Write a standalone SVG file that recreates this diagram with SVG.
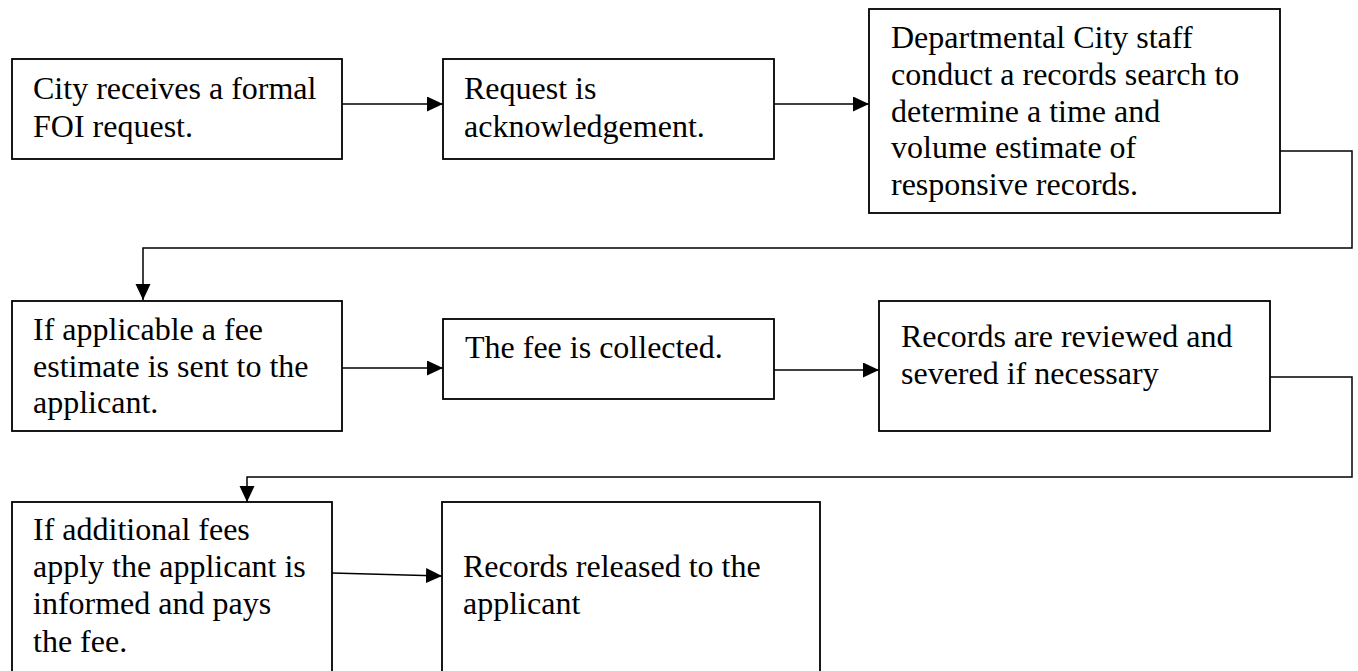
<svg xmlns="http://www.w3.org/2000/svg" width="1358" height="671" viewBox="0 0 1358 671">
<style>
.box{fill:#fff;stroke:#000;stroke-width:1.8}
.lbl{font-family:"Liberation Serif","Times New Roman",serif;font-size:32px;fill:#000}
.conn{fill:none;stroke:#000;stroke-width:1.5}
</style>
<defs>
<marker id="arr" markerUnits="userSpaceOnUse" markerWidth="17" markerHeight="16" refX="16" refY="7.5" orient="auto">
<path d="M0,0 L16,7.5 L0,15 z" fill="#000"/>
</marker>
</defs>
<rect width="1358" height="671" fill="#fff"/>
<g id="connectors">
<path class="conn" d="M342,104 H443" marker-end="url(#arr)"/>
<path class="conn" d="M774,104 H869" marker-end="url(#arr)"/>
<path class="conn" d="M1280,151 H1352 V248 H143 V300" marker-end="url(#arr)"/>
<path class="conn" d="M342,368 H443" marker-end="url(#arr)"/>
<path class="conn" d="M774,370 H879" marker-end="url(#arr)"/>
<path class="conn" d="M1270,377 H1352 V477 H247 V502" marker-end="url(#arr)"/>
<path class="conn" d="M332,573 L442,576" marker-end="url(#arr)"/>
</g>
<g id="n1">
<rect class="box" x="12" y="59" width="330" height="100"/>
<text class="lbl" x="33" y="99">City receives a formal</text>
<text class="lbl" x="33" y="137">FOI request.</text>
</g>
<g id="n2">
<rect class="box" x="443" y="59" width="331" height="100"/>
<text class="lbl" x="464" y="99">Request is</text>
<text class="lbl" x="464" y="137">acknowledgement.</text>
</g>
<g id="n3">
<rect class="box" x="869" y="9" width="411" height="204"/>
<text class="lbl" x="891" y="48">Departmental City staff</text>
<text class="lbl" x="891" y="85">conduct a records search to</text>
<text class="lbl" x="891" y="122">determine a time and</text>
<text class="lbl" x="891" y="158">volume estimate of</text>
<text class="lbl" x="891" y="195">responsive records.</text>
</g>
<g id="n4">
<rect class="box" x="12" y="301" width="330" height="130"/>
<text class="lbl" x="33" y="340">If applicable a fee</text>
<text class="lbl" x="33" y="377">estimate is sent to the</text>
<text class="lbl" x="33" y="413">applicant.</text>
</g>
<g id="n5">
<rect class="box" x="443" y="319" width="331" height="80"/>
<text class="lbl" x="465" y="358">The fee is collected.</text>
</g>
<g id="n6">
<rect class="box" x="879" y="301" width="391" height="130"/>
<text class="lbl" x="901" y="347">Records are reviewed and</text>
<text class="lbl" x="901" y="384">severed if necessary</text>
</g>
<g id="n7">
<rect class="box" x="12" y="502" width="320" height="190"/>
<text class="lbl" x="33" y="540">If additional fees</text>
<text class="lbl" x="33" y="577">apply the applicant is</text>
<text class="lbl" x="33" y="614">informed and pays</text>
<text class="lbl" x="33" y="652">the fee.</text>
</g>
<g id="n8">
<rect class="box" x="442" y="502" width="378" height="190"/>
<text class="lbl" x="463" y="577">Records released to the</text>
<text class="lbl" x="463" y="614">applicant</text>
</g>
</svg>
